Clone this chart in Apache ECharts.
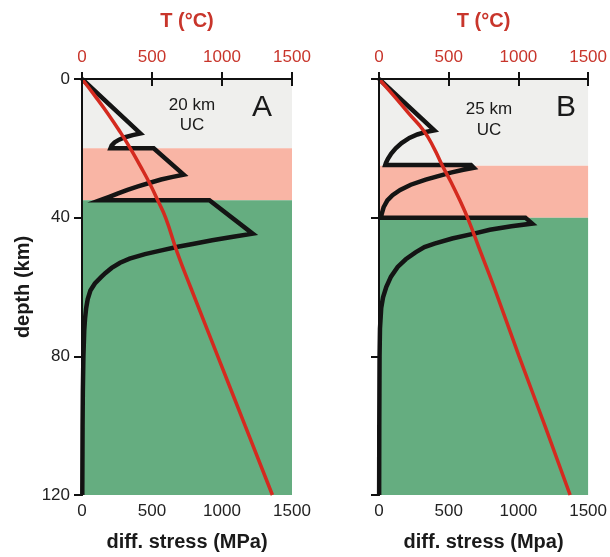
<!DOCTYPE html>
<html>
<head>
<meta charset="utf-8">
<script src="https://cdn.jsdelivr.net/npm/echarts@6/dist/echarts.min.js"></script>
<style>html,body{margin:0;padding:0;background:#fff;}#c{width:610px;height:557px;}</style>
</head>
<body>
<div id="c"></div>
<script>
// ---- data (depth in km, stress in MPa, temperature in °C) ----
const depthTicks = [0, 40, 80, 120];
const xTicks = [0, 500, 1000, 1500];

// Panel A: 20 km upper crust
const stressA = [[0,0],[15.7,417],[16.2,362],[16.8,308],[17.5,265],[18.3,232],[19.2,212],[20,204],[20,512],[27.6,726],[28.3,640],[29,565],[30,480],[31,400],[32,325],[33,258],[34,195],[34.6,155],[35,128],[35,910],[44.6,1219],[45.5,1080],[46.5,930],[47.5,800],[48.4,684],[49.5,560],[50.5,450],[51.8,340],[53,272],[54.5,212],[56,166],[57.1,138],[59,92],[61,60],[63.5,41],[66,30],[69,22],[72.5,16],[80,10],[90,6],[100,4],[120,2]];
const tempA = [[0,0],[5,95],[10,185],[15,268],[20,345],[25,415],[30,482],[35,541],[40,597],[50,680],[60,775],[80,970],[100,1165],[120,1360]];
const bandsA = [[0,20],[20,35],[35,120]];

// Panel B: 25 km upper crust
const stressB = [[0,0],[14.8,397],[15.3,335],[16,275],[17,218],[18.5,162],[20,120],[21.5,88],[23,64],[24.2,50],[24.8,45],[24.8,660],[25.6,680],[26.2,605],[27,515],[28,425],[29,335],[30.5,228],[32,152],[33.5,97],[35,60],[37,33],[39,19],[40,15],[40,1050],[41.7,1099],[42.5,950],[43.5,795],[44.6,681],[46,525],[47.5,398],[48.5,326],[50,262],[52,192],[54.2,134],[57,86],[60,52],[63,29],[66,16],[72,7],[80,4],[100,2],[120,1]];
const tempB = [[0,0],[5,110],[10,215],[15,322],[20,395],[25,455],[30,520],[35,580],[40,635],[50,730],[60,825],[80,1005],[100,1190],[120,1371]];
const bandsB = [[0,25],[25,40],[40,120]];

const panelLabels = ['A', 'B'];
const ucLabels = ['20 km\nUC', '25 km\nUC'];
const xTitles = ['diff. stress (MPa)', 'diff. stress (Mpa)'];

// ---- styling ----
const FONT = 'Arial, "Liberation Sans", Helvetica, sans-serif';
const RED = '#d42a1f';
const REDTXT = '#c8352b';
const BAND_COLORS = ['#efefed', '#f9b5a5', '#65ad80'];
const AXCOL = '#111';
const plain = function (v) { return String(v); };

const grids = [
  {left: 82, top: 79, width: 210, height: 416},
  {left: 379, top: 79, width: 210, height: 416}
];

const xAxes = [], yAxes = [], series = [];
[0, 1].forEach(function (i) {
  const stress = i === 0 ? stressA : stressB;
  const temp = i === 0 ? tempA : tempB;
  const bands = i === 0 ? bandsA : bandsB;
  // bottom: stress axis
  xAxes.push({
    type: 'value', gridIndex: i, position: 'bottom', min: xTicks[0], max: xTicks[xTicks.length - 1], interval: 500,
    z: 5,
    name: xTitles[i], nameLocation: 'middle', nameGap: 37,
    nameTextStyle: {fontFamily: FONT, fontSize: 20, fontWeight: 'bold', color: '#1a1a1a'},
    axisLine: {show: true, lineStyle: {color: AXCOL, width: 2}},
    axisTick: {show: true, inside: false, length: 7, lineStyle: {color: AXCOL, width: 2}},
    axisLabel: {margin: 8, fontFamily: FONT, fontSize: 17, color: '#222', formatter: plain},
    splitLine: {show: false}
  });
  // top: temperature axis
  xAxes.push({
    type: 'value', gridIndex: i, position: 'top', min: xTicks[0], max: xTicks[xTicks.length - 1], interval: 500,
    z: 5,
    name: 'T (°C)', nameLocation: 'middle', nameGap: 48,
    nameTextStyle: {fontFamily: FONT, fontSize: 20, fontWeight: 'bold', color: REDTXT},
    axisLine: {show: true, lineStyle: {color: AXCOL, width: 2}},
    axisTick: {show: true, inside: false, length: 7, lineStyle: {color: AXCOL, width: 2}},
    axisLabel: {margin: 13, fontFamily: FONT, fontSize: 17, color: REDTXT, formatter: plain},
    splitLine: {show: false}
  });
  yAxes.push({
    type: 'value', gridIndex: i, position: 'left', inverse: true, min: depthTicks[0], max: depthTicks[depthTicks.length - 1], interval: 40,
    z: 5,
    name: i === 0 ? 'depth (km)' : '', nameLocation: 'middle', nameGap: 49, nameRotate: 90,
    nameTextStyle: {fontFamily: FONT, fontSize: 20, fontWeight: 'bold', color: '#1a1a1a'},
    axisLine: {show: true, lineStyle: {color: AXCOL, width: 2}},
    axisTick: {show: true, inside: false, length: 8, lineStyle: {color: AXCOL, width: 2}},
    axisLabel: {show: i === 0, margin: 12, fontFamily: FONT, fontSize: 17, color: '#222', formatter: plain},
    splitLine: {show: false}
  });
  yAxes.push({
    type: 'value', gridIndex: i, position: 'right', inverse: true, min: 0, max: 120, interval: 40,
    z: 5,
    axisLine: {show: true, lineStyle: {color: AXCOL, width: 2}},
    axisTick: {show: false}, axisLabel: {show: false}, splitLine: {show: false}
  });
  // background bands
  series.push({
    type: 'line', xAxisIndex: 2 * i, yAxisIndex: 2 * i, data: [], silent: true, z: 1,
    markArea: {
      silent: true,
      data: bands.map(function (b, k) {
        return [{yAxis: b[0], itemStyle: {color: BAND_COLORS[k], opacity: 1}}, {yAxis: b[1]}];
      })
    }
  });
  // strength envelope
  series.push({
    type: 'line', xAxisIndex: 2 * i, yAxisIndex: 2 * i, z: 3,
    data: stress.map(function (p) { return [p[1], p[0]]; }),
    symbol: 'none', smooth: false,
    lineStyle: {color: '#141414', width: 4.5, join: 'miter'}
  });
  // temperature
  series.push({
    type: 'line', xAxisIndex: 2 * i + 1, yAxisIndex: 2 * i, z: 4,
    data: temp.map(function (p) { return [p[1], p[0]]; }),
    symbol: 'none', smooth: true,
    lineStyle: {color: RED, width: 3.5}
  });
});

const chart = echarts.init(document.getElementById('c'), null, {renderer: 'canvas'});
chart.setOption({
  animation: false,
  backgroundColor: '#ffffff',
  grid: grids,
  xAxis: xAxes,
  yAxis: yAxes,
  series: series,
  graphic: [
    {type: 'text', x: 192, y: 115, z: 10, style: {text: ucLabels[0], fontFamily: FONT, fontSize: 17, fill: '#1a1a1a', textAlign: 'center', textVerticalAlign: 'middle', lineHeight: 20}},
    {type: 'text', x: 262, y: 108, z: 10, style: {text: panelLabels[0], fontFamily: FONT, fontSize: 30, fill: '#1a1a1a', textAlign: 'center', textVerticalAlign: 'middle'}},
    {type: 'text', x: 489, y: 120, z: 10, style: {text: ucLabels[1], fontFamily: FONT, fontSize: 17, fill: '#1a1a1a', textAlign: 'center', textVerticalAlign: 'middle', lineHeight: 21}},
    {type: 'text', x: 566, y: 108, z: 10, style: {text: panelLabels[1], fontFamily: FONT, fontSize: 30, fill: '#1a1a1a', textAlign: 'center', textVerticalAlign: 'middle'}}
  ]
});
</script>
</body>
</html>
